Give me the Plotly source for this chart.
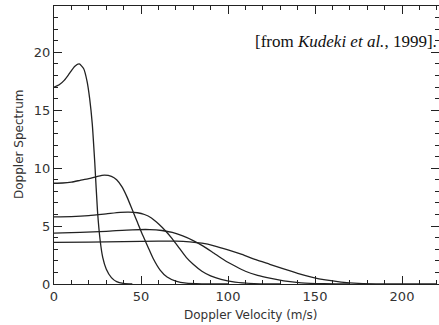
import plotly.graph_objects as go

# Doppler velocity (m/s) and spectrum values for the five curves
v1 = [0, 3, 6, 9, 12, 14.5, 17, 19, 20.5, 22, 23.5, 25, 26.5, 28, 30, 33, 36, 40, 45]
s1 = [17.0, 17.2, 17.6, 18.2, 18.8, 19.0, 18.6, 17.5, 16.0, 13.8, 10.3, 6.3, 3.8, 2.3, 1.3, 0.55, 0.2, 0.05, 0]

v2 = [0, 5, 10, 15, 20, 25, 29, 33, 36, 39, 42, 45, 48, 51, 54, 57, 61, 65, 70, 76, 85, 100]
s2 = [8.7, 8.72, 8.8, 8.95, 9.1, 9.3, 9.4, 9.3, 9.0, 8.4, 7.5, 6.4, 5.3, 4.2, 3.2, 2.2, 1.2, 0.6, 0.25, 0.07, 0.01, 0]

v3 = [0, 10, 20, 30, 38, 43, 48, 52, 56, 60, 64, 68, 72, 76, 80, 85, 90, 96, 104, 115, 130]
s3 = [5.8, 5.82, 5.9, 6.05, 6.18, 6.2, 6.15, 6.0, 5.7, 5.2, 4.6, 3.9, 3.1, 2.3, 1.7, 1.1, 0.7, 0.4, 0.17, 0.04, 0]

v4 = [0, 15, 30, 45, 55, 62, 68, 74, 80, 86, 92, 98, 104, 110, 117, 124, 132, 142, 155, 170]
s4 = [4.4, 4.45, 4.55, 4.68, 4.7, 4.62, 4.45, 4.15, 3.75, 3.25, 2.65, 2.05, 1.55, 1.1, 0.75, 0.5, 0.27, 0.1, 0.02, 0]

v5 = [0, 20, 40, 60, 70, 78, 85, 92, 100, 108, 116, 124, 132, 140, 148, 156, 165, 175, 190, 220]
s5 = [3.6, 3.62, 3.66, 3.7, 3.7, 3.64, 3.52, 3.3, 2.95, 2.55, 2.1, 1.7, 1.3, 0.92, 0.6, 0.35, 0.17, 0.06, 0.01, 0]

curves = [(v1, s1), (v2, s2), (v3, s3), (v4, s4), (v5, s5)]

W, H = 439, 325
ML, MT, MB, MR = 54, 6, 41, 0
pw, ph = W - ML - MR, H - MT - MB

fig = go.Figure()
for v, s in curves:
    fig.add_trace(go.Scatter(x=v, y=s, mode="lines",
                             line=dict(color="#222222", width=1.3, shape="spline", smoothing=0.6),
                             showlegend=False, hoverinfo="skip"))
# invisible trace to anchor the right-hand tick axis
fig.add_trace(go.Scatter(x=[0], y=[0], yaxis="y2", mode="markers",
                         marker=dict(opacity=0), showlegend=False, hoverinfo="skip"))

tickfont = dict(family="DejaVu Sans", size=13, color="#333333")

fig.update_layout(
    width=W, height=H,
    margin=dict(l=ML, r=MR, t=MT, b=MB),
    paper_bgcolor="white", plot_bgcolor="white",
    xaxis=dict(range=[0, pw / 1.74], dtick=50, tick0=0,
               showline=True, linecolor="#222222", linewidth=1.2, mirror="ticks",
               ticks="inside", ticklen=8, tickwidth=1, tickcolor="#222222",
               showgrid=False, zeroline=False, tickfont=tickfont,
               minor=dict(dtick=10, ticks="inside", ticklen=4, tickcolor="#222222")),
    yaxis=dict(range=[0, 24], dtick=5, tick0=0,
               showline=True, linecolor="#222222", linewidth=1.2, mirror=False,
               ticks="inside", ticklen=8, tickwidth=1, tickcolor="#222222",
               showgrid=False, zeroline=False, tickfont=tickfont, ticklabelstandoff=0,
               minor=dict(dtick=1, ticks="inside", ticklen=4, tickcolor="#222222")),
    yaxis2=dict(range=[0, 24], dtick=5, tick0=0, overlaying="y", side="right",
                showline=False, showticklabels=False,
                ticks="inside", ticklen=8, tickwidth=1, tickcolor="#222222",
                showgrid=False, zeroline=False,
                minor=dict(dtick=1, ticks="inside", ticklen=4, tickcolor="#222222")),
    annotations=[
        dict(text="[from <i>Kudeki et al.</i>, 1999].", xref="paper", yref="paper",
             x=1.0, y=(284 - 42) / ph, xanchor="right", yanchor="middle", showarrow=False,
             font=dict(family="Liberation Serif", size=17, color="#111111")),
        dict(text="Doppler Velocity (m/s)", xref="paper", yref="paper",
             x=(251 - ML) / pw, y=(284 - 315) / ph, xanchor="center", yanchor="middle",
             showarrow=False, font=dict(family="DejaVu Sans", size=12, color="#333333")),
        dict(text="Doppler Spectrum", xref="paper", yref="paper", textangle=-90,
             x=(19 - ML) / pw, y=0.5, xanchor="center", yanchor="middle",
             showarrow=False, font=dict(family="DejaVu Sans", size=12, color="#333333")),
    ],
)

fig.write_html("out.html")
